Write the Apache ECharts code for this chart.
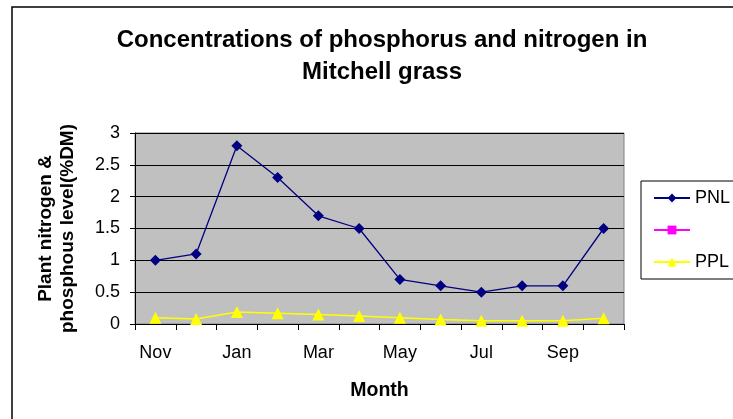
<!DOCTYPE html>
<html>
<head>
<meta charset="utf-8">
<script src="https://cdn.jsdelivr.net/npm/echarts@6/dist/echarts.min.js"></script>
<style>html,body{margin:0;padding:0;background:#fff;}#c{width:733px;height:419px;}</style>
</head>
<body>
<div id="c"></div>
<script>
var months = ['Nov','Dec','Jan','Feb','Mar','Apr','May','Jun','Jul','Aug','Sep','Oct'];
var pnl = [1.0, 1.1, 2.8, 2.3, 1.7, 1.5, 0.7, 0.6, 0.5, 0.6, 0.6, 1.5];
var ppl = [0.1, 0.08, 0.19, 0.17, 0.15, 0.125, 0.1, 0.07, 0.05, 0.05, 0.05, 0.09];
var emptySeries = [];
var yTicks = [0, 0.5, 1, 1.5, 2, 2.5, 3];

var font = 'Liberation Sans, Arial, sans-serif';
var chart = echarts.init(document.getElementById('c'), null, {renderer: 'canvas'});
chart.setOption({
  animation: false,
  backgroundColor: '#fff',
  title: {
    text: 'Concentrations of phosphorus and nitrogen in\nMitchell grass',
    left: 377, top: 19, textAlign: 'center',
    textStyle: {fontFamily: font, fontSize: 24, fontWeight: 'bold', color: '#000', lineHeight: 32}
  },
  graphic: [{
    type: 'rect', shape: {x: 12, y: 7, width: 800, height: 500},
    style: {fill: 'none', stroke: '#000', lineWidth: 1.5}, z: -1, silent: true
  }],
  legend: {
    orient: 'vertical', left: 641, top: 181,
    borderColor: '#000', borderWidth: 1, padding: [8, 40, 8, 12],
    itemWidth: 36, itemHeight: 11, itemGap: 14,
    textStyle: {fontFamily: font, fontSize: 18, color: '#000'},
    data: ['PNL', ' ', 'PPL']
  },
  grid: {
    left: 135, right: 109, top: 133, bottom: 95,
    show: true, backgroundColor: '#C0C0C0', borderColor: '#808080', borderWidth: 1
  },
  xAxis: {
    type: 'category', data: months, boundaryGap: true,
    name: 'Month', nameLocation: 'middle', nameGap: 57,
    nameTextStyle: {fontFamily: font, fontSize: 19.5, fontWeight: 'bold', color: '#000'},
    axisLine: {lineStyle: {color: '#000', width: 1}},
    axisTick: {show: true, interval: 0, length: 6, lineStyle: {color: '#000'}},
    axisLabel: {interval: 1, margin: 20, fontFamily: font, fontSize: 18, color: '#000'},
    splitLine: {show: false}
  },
  yAxis: {
    type: 'value', min: yTicks[0], max: yTicks[yTicks.length - 1], interval: 0.5,
    name: 'Plant nitrogen &\nphosphous level(%DM)', nameLocation: 'middle', nameGap: 56, nameRotate: 90,
    nameTextStyle: {fontFamily: font, fontSize: 19, fontWeight: 'bold', color: '#000', lineHeight: 22},
    axisLine: {show: true, lineStyle: {color: '#000', width: 1}},
    axisTick: {show: true, length: 5, lineStyle: {color: '#000'}},
    axisLabel: {margin: 15, fontFamily: font, fontSize: 18, color: '#000'},
    splitLine: {show: true, lineStyle: {color: '#000', width: 1}}
  },
  series: [
    {name: 'PNL', type: 'line', data: pnl, symbol: 'diamond', symbolSize: 11,
     itemStyle: {color: '#000080'}, lineStyle: {color: '#000080', width: 1.3}},
    {name: ' ', type: 'line', data: emptySeries, symbol: 'rect', symbolSize: 9,
     itemStyle: {color: '#FF00FF'}, lineStyle: {color: '#FF00FF', width: 1.3}},
    {name: 'PPL', type: 'line', data: ppl, symbol: 'triangle', symbolSize: 12,
     itemStyle: {color: '#FFFF00'}, lineStyle: {color: '#FFFF00', width: 1.5}}
  ]
});
</script>
</body>
</html>
